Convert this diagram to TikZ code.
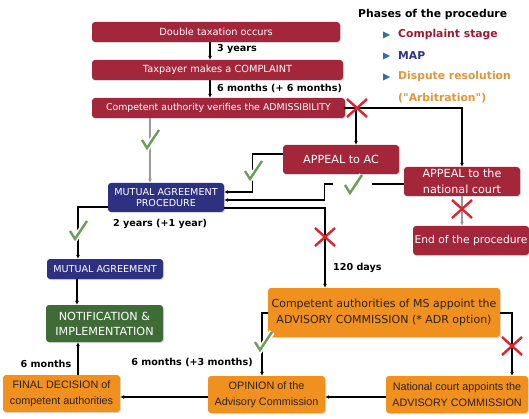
\documentclass[tikz,border=0pt]{standalone}
\usepackage{fontspec}
\setmainfont{DejaVu Sans}[Ligatures=TeXOff]
\newfontfamily\arialf{Liberation Sans}
\usetikzlibrary{arrows.meta,shadows}
\definecolor{cred}{HTML}{A3263B}
\definecolor{cnavy}{HTML}{2E3182}
\definecolor{cgreen}{HTML}{3E6B36}
\definecolor{corange}{HTML}{F0901F}
\definecolor{ctxt}{HTML}{2B2118}
\definecolor{lred}{HTML}{9B1B30}
\definecolor{lorange}{HTML}{E0953A}
\definecolor{lblue}{HTML}{2F6FA8}
\definecolor{chkgreen}{HTML}{6A9F5A}
\definecolor{xred}{HTML}{E3202B}
\definecolor{cgray}{HTML}{9A9A9A}
\tikzset{
  box/.style={rectangle, rounded corners=3pt, inner sep=1pt, align=center, font=\fontsize{9.8}{12}\selectfont,
    drop shadow={shadow xshift=1pt, shadow yshift=-1pt, opacity=0.3}},
  redbox/.style={box, fill=cred, text=white},
  bigred/.style={redbox, minimum width=116pt, minimum height=29pt, font=\fontsize{11.2}{16}\selectfont},
  navybox/.style={box, fill=cnavy, text=white, font=\fontsize{9.6}{11.5}\selectfont},
  greenbox/.style={box, fill=cgreen, text=white, font=\fontsize{11.2}{15}\selectfont},
  orbox/.style={box, fill=corange, text=ctxt, font=\arialf\fontsize{10.8}{16}\selectfont},
  arr/.style={draw=black, line width=1.3pt, -{Latex[length=4pt,width=4pt]}},
  garr/.style={draw=cgray, line width=1.3pt, -{Latex[length=4pt,width=4pt]}},
  lbl/.style={font=\bfseries\fontsize{9.6}{11}\selectfont, inner sep=0pt},
  leg/.style={font=\bfseries\fontsize{10.8}{12}\selectfont, inner sep=0pt, anchor=west},
  chk/.pic={\draw[chkgreen, line width=2.4pt, preaction={draw=white, line width=6pt}] (-8,-1) -- (-3,7) -- (9,-11);},
  xmk/.pic={\draw[xred, line width=2.4pt] (-10,-9) -- (10,9) (-10,9) -- (10,-9);},
  tri/.pic={\fill[lblue] (-3,-3.5) -- (4,0) -- (-3,3.5) -- cycle;}
}
\begin{document}
\begin{tikzpicture}[x=1pt,y=-1pt]
\useasboundingbox (0,0) rectangle (529,419);
% nodes
\node[redbox, minimum width=248pt, minimum height=20pt] (dt) at (216,32) {Double taxation occurs};
\node[redbox, minimum width=251pt, minimum height=20pt] (tp) at (217.5,70) {Taxpayer makes a COMPLAINT};
\node[redbox, minimum width=253pt, minimum height=20pt, font=\fontsize{9.4}{12}\selectfont] (ca) at (218.5,108) {Competent authority verifies the ADMISSIBILITY};
\node[bigred] (ac) at (341,159.5) {APPEAL to AC};
\node[bigred] (nc) at (462,181.5) {APPEAL to the\\national court};
\node[bigred, minimum width=116pt, font=\fontsize{10.7}{16}\selectfont] (end) at (471,240.5) {End of the procedure};
\node[navybox, minimum width=116pt, minimum height=29pt] (map) at (166,197.5) {MUTUAL AGREEMENT\\PROCEDURE};
\node[navybox, minimum width=116pt, minimum height=20pt] (ma) at (105,269) {MUTUAL AGREEMENT};
\node[greenbox, minimum width=117pt, minimum height=37pt] (notif) at (104.5,323.5) {NOTIFICATION \&\\IMPLEMENTATION};
\node[orbox, minimum width=117pt, minimum height=37pt] (fd) at (61.5,393.5) {FINAL DECISION of\\competent authorities};
\node[orbox, minimum width=117pt, minimum height=37pt] (op) at (266.5,394.5) {OPINION of the\\Advisory Commission};
\node[orbox, minimum width=232pt, minimum height=49pt, font=\fontsize{11}{16}\selectfont] (adv) at (384,312.5) {Competent authorities of MS appoint the\\ADVISORY COMMISSION (* ADR option)};
\node[orbox, minimum width=142pt, minimum height=37pt] (ncadv) at (457,394.5) {National court appoints the\\ADVISORY COMMISSION};
% legend
\node[leg, text=black] (lt) at (358,15) {Phases of the procedure};
\pic at (386,35) {tri};
\node[leg, text=lred] (l1) at (398,35) {Complaint stage};
\pic at (386,56) {tri};
\node[leg, text=cnavy] (l2) at (398,56) {MAP};
\pic at (386,77) {tri};
\node[leg, text=lorange] (l3) at (398,77) {Dispute resolution};
\node[leg, text=lorange] (l4) at (398,98) {("Arbitration")};
% connectors
\draw[arr] ([xshift=-6pt]dt.south) -- ([xshift=-6pt]dt.south |- tp.north);
\node[lbl, anchor=west] (t3) at (217,49) {3 years};
\draw[arr] ([xshift=-7.5pt]tp.south) -- ([xshift=-7.5pt]tp.south |- ca.north);
\node[lbl, anchor=west] (t6) at (217,88) {6 months (+ 6 months)};
\draw[garr] ([xshift=-16pt]map.north |- ca.south) -- ([xshift=-16pt]map.north);
\pic at (150,141) {chk};
\coordinate (xa) at (356,108);
\fill (ca.east) circle (1.5pt);
\draw[arr] (ca.east) -| (nc.north);
\draw[arr] (xa) -- (xa |- ac.north);
\pic at (357,108) {xmk};
\draw[arr] ([yshift=5.5pt]ac.west) -- ++(-30,0) |- ([yshift=5.5pt]map.east);
\pic at (253,172) {chk};
\draw[arr] ([yshift=-2.5pt]nc.west) -- ++(-79,0) |- ([yshift=-2.5pt]map.east);
\fill[white] (333,180) rectangle (372,189);
\pic at (353,186) {chk};
\draw[arr] ([yshift=-10.5pt]map.east) -| ([xshift=-59pt]adv.north);
\pic at (325,237) {xmk};
\node[lbl, anchor=west] (t120) at (333,268) {120 days};
\draw[arr] ([yshift=-9.5pt]map.west) -| ([xshift=-27pt]ma.north);
\pic at (78,232) {chk};
\node[lbl] (t2y) at (160,224) {2 years (+1 year)};
\draw[arr] ([xshift=-28pt]ma.south) -- ([xshift=-28pt]ma.south |- notif.north);
\draw[arr] ([xshift=16.5pt]fd.north) -- ([xshift=16.5pt]fd.north |- notif.south);
\node[lbl] (t6m) at (46,364) {6 months};
\draw[arr] ([yshift=-2.5pt]op.west) -- ([yshift=-2.5pt]op.west -| fd.east);
\draw[arr] ([yshift=-0.5pt]adv.west) -| ([xshift=-4.5pt]op.north);
\pic at (263,343) {chk};
\node[lbl] (t63) at (192,362) {6 months (+3 months)};
\draw[arr] ([yshift=-0.5pt]adv.east) -| ([xshift=55pt]ncadv.north);
\pic at (512,346) {xmk};
\draw[arr] ([yshift=-2.5pt]ncadv.west) -- ([yshift=-2.5pt]ncadv.west -| op.east);
\draw[garr] (nc.south) -- (nc.south |- end.north);
\pic at (462,209) {xmk};
\end{tikzpicture}
\end{document}
